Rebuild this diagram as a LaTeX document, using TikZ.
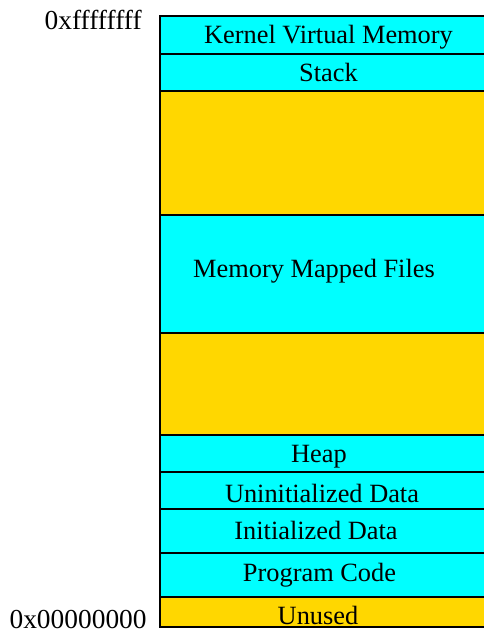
\documentclass[tikz,border=0pt]{standalone}
\usepackage{fontspec}
\setmainfont{Liberation Serif}
\usepackage{tikz}
\usetikzlibrary{positioning}
\definecolor{segcyan}{RGB}{0,255,255}
\definecolor{freegold}{RGB}{255,215,0}

\begin{document}
\begin{tikzpicture}[
					node distance=0pt,
					seg/.style={draw,line width=0.6pt,fill=segcyan,outer sep=0pt,inner sep=0pt,
							minimum width=6.74cm,
							font=\fontsize{15}{18}\selectfont,text height=10pt,text depth=0pt},
					gap/.style={seg,fill=freegold},
					lbl/.style={font=\fontsize{15}{18}\selectfont,inner sep=0pt,text height=10pt,text depth=0pt},
					addr/.style={font=\fontsize{15.6}{18}\selectfont,anchor=east,inner sep=0pt}]
				\useasboundingbox (0,0) rectangle (9.68,-12.66);
				\clip (0,0) rectangle (9.68,-12.66);
				\node[seg,anchor=north west,minimum height=0.76cm] (kvm) at (3.2,-0.32) {Kernel Virtual Memory};
				\node[seg,below=of kvm,minimum height=0.74cm] (stack) {Stack};
				\node[gap,below=of stack,minimum height=2.48cm] (free1) {};
				\node[seg,below=of free1,minimum height=2.36cm] (mmap) {};
				\node[gap,below=of mmap,minimum height=2.04cm] (free2) {};
				\node[seg,below=of free2,minimum height=0.74cm] (heap) {};
				\node[seg,below=of heap,minimum height=0.74cm] (bss) {};
				\node[seg,below=of bss,minimum height=0.88cm] (data) {};
				\node[seg,below=of data,minimum height=0.88cm] (text) {};
				\node[gap,below=of text,minimum height=0.60cm] (unused) {};
				% band labels, a little left of centre
				\node[lbl] at ([xshift=-0.29cm,yshift=0.1cm]mmap.center) {Memory Mapped Files};
				\node[lbl] at ([xshift=-0.19cm]heap.center) {Heap};
				\node[lbl] at ([xshift=-0.13cm,yshift=-0.06cm]bss.center) {Uninitialized Data};
				\node[lbl] at ([xshift=-0.25cm]data.center) {Initialized Data};
				\node[lbl] at ([xshift=-0.18cm,yshift=0.05cm]text.center) {Program Code};
				\node[lbl] at ([xshift=-0.21cm,yshift=-0.08cm]unused.center) {Unused};
				% address marks
				\node[addr] (hi) at (2.84,-0.40) {0xffffffff};
				\node[addr] (lo) at (2.94,-12.40) {0x00000000};
			\end{tikzpicture}
\end{document}
